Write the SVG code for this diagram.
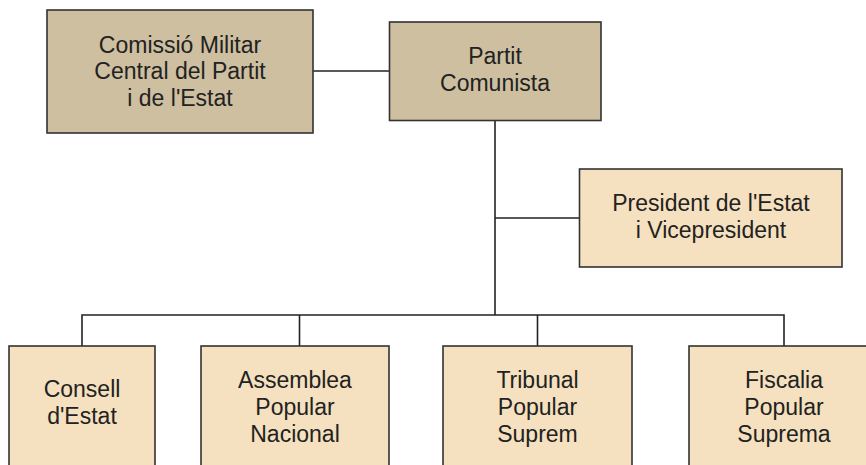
<svg xmlns="http://www.w3.org/2000/svg" width="866" height="465" viewBox="0 0 866 465">
<style>
.dark{fill:#cdbf9f;stroke:#333;stroke-width:1.6}
.light{fill:#f5e1bf;stroke:#333;stroke-width:1.6}
text{font-family:"Liberation Sans",Arial,sans-serif;font-size:23px;fill:#222;text-anchor:middle}
.conn{fill:none;stroke:#222;stroke-width:1.6}
</style>
<rect width="866" height="465" fill="#fff"/>
<g id="connectors">
<path class="conn" d="M313 71H389"/>
<path class="conn" d="M495 121V315"/>
<path class="conn" d="M495 218H579"/>
<path class="conn" d="M82 346V315H784V346"/>
<path class="conn" d="M299.5 315V346"/>
<path class="conn" d="M537.5 315V346"/>
</g>
<g id="comissio">
<rect class="dark" x="47" y="10" width="266" height="123"/>
<text x="180" y="53">Comissió Militar</text>
<text x="180" y="79.3">Central del Partit</text>
<text x="180" y="105.6">i de l'Estat</text>
</g>
<g id="partit">
<rect class="dark" x="389.5" y="22" width="211.5" height="98.5"/>
<text x="495" y="64">Partit</text>
<text x="495" y="90.6">Comunista</text>
</g>
<g id="president">
<rect class="light" x="579.5" y="169" width="262.5" height="98"/>
<text x="711" y="211">President de l'Estat</text>
<text x="711" y="237.5">i Vicepresident</text>
</g>
<g id="consell">
<rect class="light" x="9" y="346" width="146" height="130"/>
<text x="82" y="397">Consell</text>
<text x="82" y="423.5">d'Estat</text>
</g>
<g id="assemblea">
<rect class="light" x="201" y="346" width="188" height="130"/>
<text x="295" y="388">Assemblea</text>
<text x="295" y="415">Popular</text>
<text x="295" y="442">Nacional</text>
</g>
<g id="tribunal">
<rect class="light" x="443" y="346" width="189" height="130"/>
<text x="537.5" y="388">Tribunal</text>
<text x="537.5" y="415">Popular</text>
<text x="537.5" y="442">Suprem</text>
</g>
<g id="fiscalia">
<rect class="light" x="689" y="346" width="190" height="130"/>
<text x="784" y="388">Fiscalia</text>
<text x="784" y="415">Popular</text>
<text x="784" y="442">Suprema</text>
</g>
</svg>
